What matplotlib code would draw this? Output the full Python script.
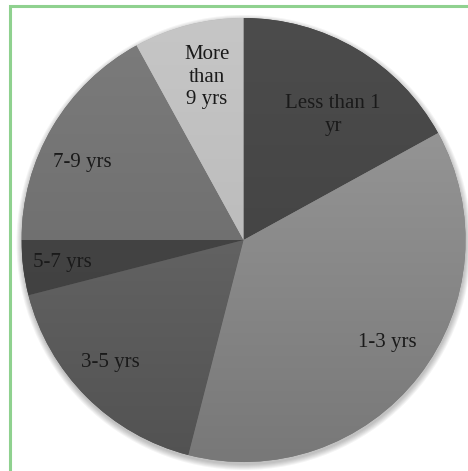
import numpy as np
import matplotlib
matplotlib.use("Agg")
import matplotlib.pyplot as plt
from matplotlib.patches import Circle, Rectangle

plt.rcParams["font.family"] = ["Liberation Serif", "DejaVu Serif"]

# Data
categories = ["Less than 1\nyr", "1-3 yrs", "3-5 yrs", "5-7 yrs", "7-9 yrs", "More\nthan\n9 yrs"]
values = [17, 37, 17, 4, 17, 8]
top_colors = ["#4c4c4c", "#9e9e9e", "#727272", "#4a4a4a", "#7c7c7c", "#c6c6c6"]
bot_colors = ["#3e3e3e", "#787878", "#525252", "#3c3c3c", "#656565", "#b3b3b3"]

W, H = 468, 471
fig = plt.figure(figsize=(W / 100, H / 100), dpi=100)
ax = fig.add_axes([0, 0, 1, 1])

cx, cy, R = 243.5, H - 240, 222

# soft shadow below the pie
for i in range(6):
    ax.add_patch(Circle((cx + 0.5, cy - 2.5), R + 0.5 + i * 1.0, color="black", alpha=0.045, lw=0, zorder=0))

wedges, _ = ax.pie(values, startangle=90, counterclock=False, center=(cx, cy), radius=R,
                   wedgeprops=dict(linewidth=0), frame=True)
ax.set_xlim(0, W)
ax.set_ylim(0, H)
ax.set_aspect("equal")
ax.axis("off")

def hex2rgb(h):
    h = h.lstrip("#")
    return np.array([int(h[i:i + 2], 16) / 255 for i in (0, 2, 4)])

t = np.linspace(0, 1, 256)[:, None]
for w, ct, cb in zip(wedges, top_colors, bot_colors):
    c1, c2 = hex2rgb(ct), hex2rgb(cb)
    img = c1[None, None, :] * (1 - t[:, :, None]) + c2[None, None, :] * t[:, :, None]
    img = np.repeat(img, 2, axis=1)
    w.set_facecolor(cb)
    im = ax.imshow(img, extent=(cx - R, cx + R, cy - R, cy + R), origin="upper",
                   zorder=w.get_zorder() + 0.1, aspect="auto", interpolation="bilinear")
    im.set_clip_path(w)

ax.set_xlim(0, W)
ax.set_ylim(0, H)

# labels (pixel positions, y from top)
label_pos = [(333, 115), (387, 343), (110, 362), (62, 262), (82, 163), (207, 77)]
for lab, (x, y) in zip(categories, label_pos):
    ax.text(x, H - y, lab, ha="center", va="center", fontsize=15,
            color="#1a1a1a", linespacing=1.25, zorder=10)

# green frame
ax.add_patch(Rectangle((10, -20), W + 20, H - 6 + 20, fill=False, edgecolor="#8fd18f", lw=2.2, zorder=11,
                       clip_on=False))

fig.savefig("out.png", dpi=100)
